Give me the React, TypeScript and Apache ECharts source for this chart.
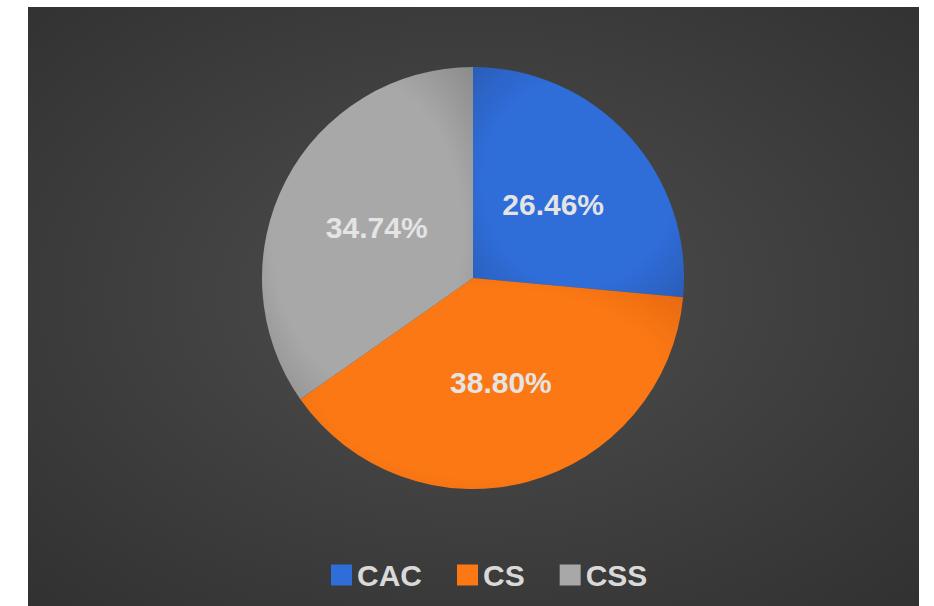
import React, { useEffect, useRef } from "react";
import * as echarts from "echarts";

const categories = ["CAC", "CS", "CSS"];
const shares = [26.46, 38.8, 34.74];
const baseColors = [
  ["#2f6dd9", "#2a5ab3"],
  ["#fb7814", "#dd620f"],
  ["#a8a8a8", "#868686"],
];

export default function App() {
  const ref = useRef<HTMLDivElement>(null);
  useEffect(() => {
    if (!ref.current) return;
    const chart = echarts.init(ref.current, undefined, { renderer: "svg" });
    const data = categories.map((name, i) => ({
      name,
      value: shares[i],
      itemStyle: {
        color: new echarts.graphic.RadialGradient(0.5, 0.5, 0.75, [
          { offset: 0, color: baseColors[i][0] },
          { offset: 0.6, color: baseColors[i][0] },
          { offset: 1, color: baseColors[i][1] },
        ]),
      },
    }));
    chart.setOption({
      animation: false,
      backgroundColor: "#ffffff",
      graphic: [
        {
          type: "rect",
          z: -10,
          silent: true,
          shape: { x: 28, y: 7, width: 891, height: 599 },
          style: {
            fill: new echarts.graphic.RadialGradient(0.5, 0.48, 0.75, [
              { offset: 0, color: "#4e4e4e" },
              { offset: 1, color: "#303030" },
            ]),
          },
        },
      ],
      legend: {
        data: categories.map((name, i) => ({
          name,
          itemStyle: { color: baseColors[i][0] },
        })),
        left: 331,
        top: 560,
        padding: 0,
        orient: "horizontal",
        icon: "rect",
        itemWidth: 21,
        itemHeight: 21,
        itemGap: 35,
        textStyle: {
          color: "#d9d9d9",
          fontSize: 30,
          fontWeight: "bold",
          fontFamily: "Liberation Sans, Arial, sans-serif",
          padding: [0, 0, 0, 0],
        },
      },
      series: [
        {
          type: "pie",
          center: [473, 278],
          radius: [0, 211],
          startAngle: 90,
          clockwise: true,
          data,
          label: {
            show: true,
            position: "inside",
            formatter: (p: any) => p.value.toFixed(2) + "%",
            color: "#e4e4e4",
            fontSize: 30,
            fontWeight: "bold",
            fontFamily: "Liberation Sans, Arial, sans-serif",
            textBorderWidth: 0,
          },
          labelLine: { show: false },
          itemStyle: { borderWidth: 0 },
          emphasis: { disabled: true },
        },
      ],
    });
    return () => chart.dispose();
  }, []);
  return (
    <div
      ref={ref}
      style={{ position: "fixed", left: 0, top: 0, width: 934, height: 606 }}
    />
  );
}
